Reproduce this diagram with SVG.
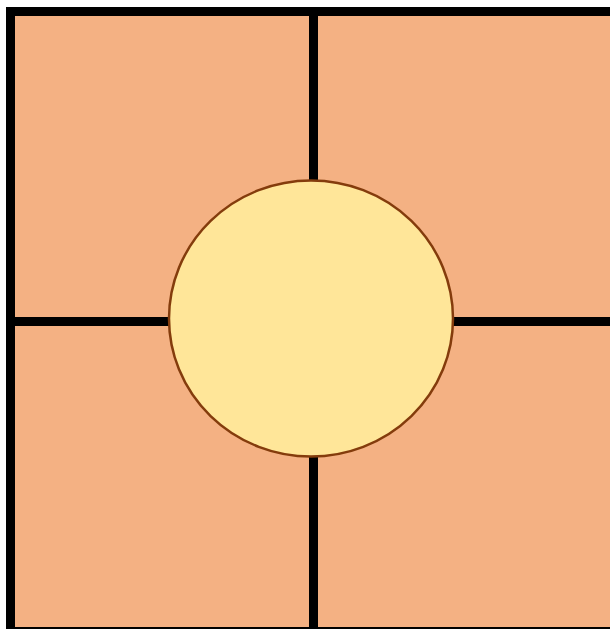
<svg xmlns="http://www.w3.org/2000/svg" width="610" height="629" viewBox="0 0 610 629">
<style>
.cell{fill:#F4B183;stroke:#000;stroke-width:9}
.hole{fill:#FFE699;stroke:#843C0C;stroke-width:2.5}
</style>
<rect width="610" height="629" fill="#fff"/>
<g id="cells">
<rect id="tl" class="cell" x="10.5" y="11.5" width="303" height="310"/>
<rect id="tr" class="cell" x="313.5" y="11.5" width="303" height="310"/>
<rect id="bl" class="cell" x="10.5" y="321.5" width="303" height="310"/>
<rect id="br" class="cell" x="313.5" y="321.5" width="303" height="310"/>
</g>
<g id="circle">
<ellipse class="hole" cx="311" cy="318.5" rx="142" ry="138"/>
</g>
</svg>
